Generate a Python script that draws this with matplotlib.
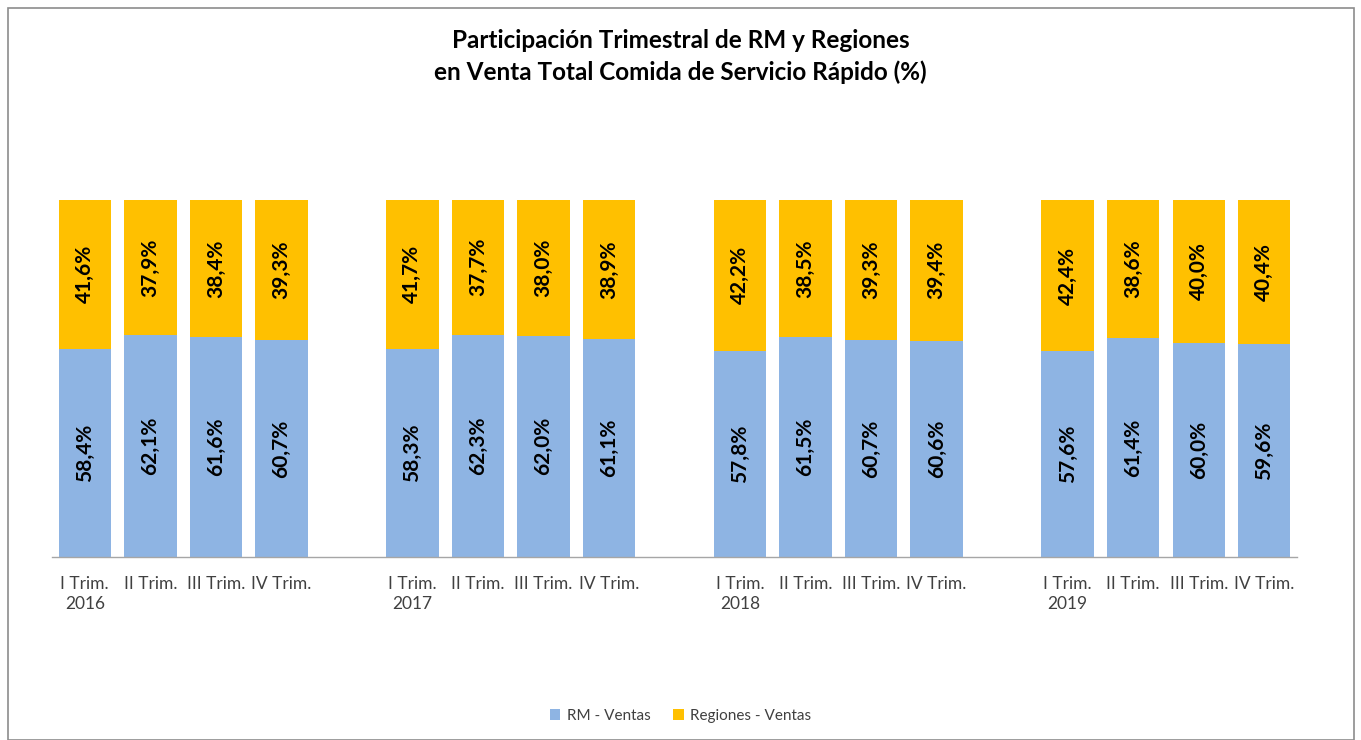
import matplotlib
matplotlib.use("Agg")
import matplotlib.pyplot as plt
from matplotlib.patches import Rectangle

years = ["2016", "2017", "2018", "2019"]
quarters = ["I Trim.", "II Trim.", "III Trim.", "IV Trim."]
rm_ventas = [58.4, 62.1, 61.6, 60.7, 58.3, 62.3, 62.0, 61.1,
             57.8, 61.5, 60.7, 60.6, 57.6, 61.4, 60.0, 59.6]
regiones_ventas = [41.6, 37.9, 38.4, 39.3, 41.7, 37.7, 38.0, 38.9,
                   42.2, 38.5, 39.3, 39.4, 42.4, 38.6, 40.0, 40.4]

FONT = ["Lato", "DejaVu Sans"]
plt.rcParams['font.family'] = FONT

W, H = 1361, 740
fig = plt.figure(figsize=(W / 100, H / 100), dpi=100)
fig.patch.set_facecolor("white")
fig.add_artist(Rectangle((8 / W, 0), (1354 - 8) / W, 1 - 8 / H, transform=fig.transFigure,
                         fill=False, edgecolor="#8c8c8c", linewidth=1.2))

ax = fig.add_axes([52 / W, 1 - 557 / H, (1297 - 52) / W, (557 - 200) / H])

positions = []
labels = []
for gi, yr in enumerate(years):
    for qi, q in enumerate(quarters):
        positions.append(gi * 5 + qi)
        labels.append(q + "\n" + yr if qi == 0 else q)

blue = "#8EB4E3"
gold = "#FFC000"
ax.bar(positions, rm_ventas, width=0.8, color=blue, label="RM - Ventas")
ax.bar(positions, regiones_ventas, width=0.8, bottom=rm_ventas, color=gold,
       label="Regiones - Ventas")

for x, a, b in zip(positions, rm_ventas, regiones_ventas):
    ax.text(x, a / 2, f"{a:.1f}%".replace(".", ","), rotation=90, ha="center", va="center",
            fontsize=15, fontweight="bold", color="black")
    ax.text(x, a + b / 2, f"{b:.1f}%".replace(".", ","), rotation=90, ha="center", va="center",
            fontsize=15, fontweight="bold", color="black")

ax.set_xlim(-0.5, 18.5)
ax.set_ylim(0, 100)
ax.set_yticks([])
ax.set_xticks(positions)
ax.set_xticklabels(labels, fontsize=12.5, color="#404040", linespacing=1.3)
ax.tick_params(axis="x", length=0, pad=14)
for s in ["top", "left", "right"]:
    ax.spines[s].set_visible(False)
ax.spines["bottom"].set_color("#a6a6a6")
ax.spines["bottom"].set_linewidth(1.0)

fig.text(0.5, 1 - 40 / H, "Participación Trimestral de RM y Regiones", ha="center", va="center",
         fontsize=17.5, fontweight="bold", color="black")
fig.text(0.5, 1 - 72 / H, "en Venta Total Comida de Servicio Rápido (%)", ha="center", va="center",
         fontsize=17.5, fontweight="bold", color="black")

fig.legend(loc="center", bbox_to_anchor=(0.5, 1 - 716 / H), ncol=2, frameon=False,
           fontsize=11, handlelength=0.7, handleheight=0.7, columnspacing=1.5,
           handletextpad=0.4, labelcolor="#404040")

fig.savefig("out.png", dpi=100)
